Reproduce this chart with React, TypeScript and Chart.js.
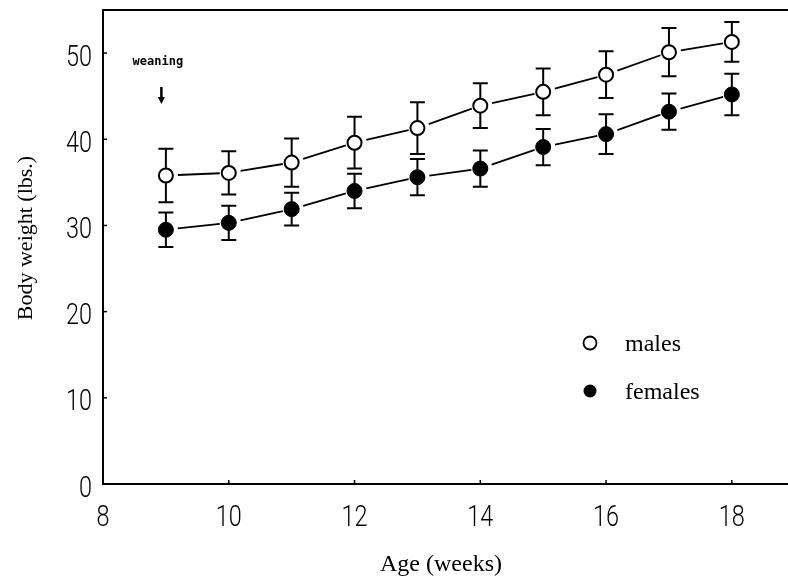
import React, { useEffect, useRef } from "react";
import { Chart, registerables } from "chart.js";

Chart.register(...registerables);

// ---- data ----
const weeks = [9, 10, 11, 12, 13, 14, 15, 16, 17, 18];
const malesMean = [35.8, 36.1, 37.3, 39.6, 41.3, 43.9, 45.5, 47.5, 50.1, 51.3];
const malesErr = [3.1, 2.5, 2.8, 3.0, 3.0, 2.6, 2.7, 2.7, 2.8, 2.3];
const femalesMean = [29.5, 30.3, 31.9, 34.0, 35.6, 36.6, 39.1, 40.6, 43.2, 45.2];
const femalesErr = [2.0, 2.0, 1.9, 2.0, 2.1, 2.1, 2.1, 2.3, 2.1, 2.4];
const xTickValues = [8, 10, 12, 14, 16, 18];
const yTickValues = [0, 10, 20, 30, 40, 50];
const seriesLabels = ["males", "females"];
const weaningWeek = 9;
const weaningText = "weaning";
const xTitle = "Age (weeks)";
const yTitle = "Body weight (lbs.)";

const TICK_FONT = "300 30px Roboto, 'DejaVu Sans', sans-serif";
const TICK_SQUEEZE = 0.78;
const SERIF = "'Liberation Serif', 'DejaVu Serif', serif";

const customPlugin = {
  id: "customDecor",
  beforeDatasetsDraw(chart: any) {
    const ctx = chart.ctx as CanvasRenderingContext2D;
    const { left, top, bottom } = chart.chartArea;
    const W = chart.width;
    const xs = chart.scales.x;
    const ys = chart.scales.y;
    ctx.save();
    ctx.strokeStyle = "#000";
    ctx.fillStyle = "#000";
    ctx.lineCap = "butt";

    // frame: left axis, bottom axis and top line, running off the right edge
    ctx.lineWidth = 2;
    ctx.beginPath();
    ctx.moveTo(left - 1, top);
    ctx.lineTo(W, top);
    ctx.moveTo(left - 1, bottom);
    ctx.lineTo(W, bottom);
    ctx.moveTo(left, top - 1);
    ctx.lineTo(left, bottom + 1);
    ctx.stroke();

    // inward tick marks
    ctx.lineWidth = 1.5;
    xTickValues.forEach((v) => {
      if (v === xs.min) return;
      const px = xs.getPixelForValue(v);
      ctx.beginPath();
      ctx.moveTo(px, bottom);
      ctx.lineTo(px, bottom - 4);
      ctx.stroke();
    });
    yTickValues.forEach((v) => {
      if (v === ys.min) return;
      const py = ys.getPixelForValue(v);
      ctx.beginPath();
      ctx.moveTo(left, py);
      ctx.lineTo(left + 4, py);
      ctx.stroke();
    });

    chart.data.datasets.forEach((ds: any, i: number) => {
      const meta = chart.getDatasetMeta(i);
      const pts = meta.data;
      // connecting line segments with gaps near markers
      ctx.lineWidth = 1.8;
      for (let k = 0; k < pts.length - 1; k++) {
        const p = pts[k];
        const q = pts[k + 1];
        const dx = q.x - p.x;
        const dy = q.y - p.y;
        const len = Math.hypot(dx, dy);
        const ux = dx / len;
        const uy = dy / len;
        const g1 = 12;
        const g2 = 9;
        ctx.beginPath();
        ctx.moveTo(p.x + ux * g1, p.y + uy * g1);
        ctx.lineTo(q.x - ux * g2, q.y - uy * g2);
        ctx.stroke();
      }
      // error bars
      ctx.lineWidth = 2;
      pts.forEach((p: any, k: number) => {
        const v = ds.data[k].y;
        const e = ds.errors[k];
        const yT = ys.getPixelForValue(v + e);
        const yB = ys.getPixelForValue(v - e);
        const cap = 7.5;
        ctx.beginPath();
        ctx.moveTo(p.x, yT);
        ctx.lineTo(p.x, yB);
        ctx.moveTo(p.x - cap, yT);
        ctx.lineTo(p.x + cap, yT);
        ctx.moveTo(p.x - cap, yB);
        ctx.lineTo(p.x + cap, yB);
        ctx.stroke();
      });
    });
    ctx.restore();
  },
  afterDraw(chart: any) {
    const ctx = chart.ctx as CanvasRenderingContext2D;
    const { left, top, bottom } = chart.chartArea;
    const xs = chart.scales.x;
    const ys = chart.scales.y;
    ctx.save();
    ctx.fillStyle = "#000";
    ctx.strokeStyle = "#000";

    // tick labels (condensed)
    ctx.font = TICK_FONT;
    ctx.textBaseline = "alphabetic";
    xTickValues.forEach((v) => {
      const px = xs.getPixelForValue(v);
      ctx.save();
      ctx.translate(px, bottom + 42);
      ctx.scale(TICK_SQUEEZE, 1);
      ctx.textAlign = "center";
      ctx.fillText(String(v), 0, 0);
      ctx.restore();
    });
    yTickValues.forEach((v) => {
      const py = ys.getPixelForValue(v);
      ctx.save();
      ctx.translate(left - 11, py + 12.5);
      ctx.scale(TICK_SQUEEZE, 1);
      ctx.textAlign = "right";
      ctx.fillText(String(v), 0, 0);
      ctx.restore();
    });

    // y axis title
    ctx.save();
    ctx.font = "22px " + SERIF;
    ctx.translate(26, 238);
    ctx.rotate(-Math.PI / 2);
    ctx.textAlign = "center";
    ctx.textBaseline = "middle";
    ctx.fillText(yTitle, 0, 0);
    ctx.restore();

    // weaning annotation
    const wx = xs.getPixelForValue(weaningWeek);
    ctx.font = "bold 12px 'DejaVu Sans Mono', 'Liberation Mono', monospace";
    ctx.textAlign = "center";
    ctx.textBaseline = "middle";
    ctx.fillText(weaningText, wx - 8, 62);
    const ax = wx - 4.5;
    ctx.lineWidth = 2.5;
    ctx.beginPath();
    ctx.moveTo(ax, 87);
    ctx.lineTo(ax, 98);
    ctx.stroke();
    ctx.beginPath();
    ctx.moveTo(ax - 3.5, 97);
    ctx.lineTo(ax + 3.5, 97);
    ctx.lineTo(ax, 104);
    ctx.closePath();
    ctx.fill();

    // legend
    const lx = left + 487;
    const rows = [top + 333, top + 381];
    ctx.font = "24px " + SERIF;
    ctx.textAlign = "left";
    ctx.textBaseline = "alphabetic";
    seriesLabels.forEach((lab, i) => {
      const cy = rows[i];
      ctx.beginPath();
      ctx.arc(lx, cy, 6.5, 0, Math.PI * 2);
      if (i === 0) {
        ctx.fillStyle = "#fff";
        ctx.fill();
        ctx.lineWidth = 1.8;
        ctx.stroke();
      } else {
        ctx.fillStyle = "#000";
        ctx.fill();
      }
      ctx.fillStyle = "#000";
      ctx.fillText(lab, lx + 35, cy + 8);
    });
    ctx.restore();
  },
};

export default function App() {
  const canvasRef = useRef<HTMLCanvasElement | null>(null);

  useEffect(() => {
    const canvas = canvasRef.current;
    if (!canvas) return;
    const chart = new Chart(canvas, {
      type: "line",
      data: {
        datasets: [
          {
            label: seriesLabels[0],
            data: weeks.map((w, i) => ({ x: w, y: malesMean[i] })),
            errors: malesErr,
            showLine: false,
            pointRadius: 7,
            pointBackgroundColor: "#fff",
            pointBorderColor: "#000",
            pointBorderWidth: 2,
            borderColor: "#000",
          } as any,
          {
            label: seriesLabels[1],
            data: weeks.map((w, i) => ({ x: w, y: femalesMean[i] })),
            errors: femalesErr,
            showLine: false,
            pointRadius: 7.5,
            pointBackgroundColor: "#000",
            pointBorderColor: "#000",
            pointBorderWidth: 1,
            borderColor: "#000",
          } as any,
        ],
      },
      options: {
        animation: false,
        responsive: true,
        maintainAspectRatio: false,
        layout: { padding: { top: 10, left: 0, right: 0, bottom: 0 } },
        plugins: {
          legend: { display: false },
          tooltip: { enabled: false },
        },
        scales: {
          x: {
            type: "linear",
            min: 8,
            max: 18.75,
            afterBuildTicks: (scale: any) => {
              scale.ticks = xTickValues.map((v) => ({ value: v }));
            },
            afterFit: (scale: any) => {
              scale.height = 99;
              scale.paddingLeft = 0;
              scale.paddingRight = 0;
            },
            grid: { display: false, drawTicks: false, tickLength: 0 },
            border: { display: false },
            ticks: { display: false },
            title: {
              display: true,
              text: xTitle,
              color: "#000",
              font: { family: SERIF, size: 24 },
              padding: { top: 0, bottom: 4 },
            },
          },
          y: {
            type: "linear",
            min: 0,
            max: 55,
            afterBuildTicks: (scale: any) => {
              scale.ticks = yTickValues.map((v) => ({ value: v }));
            },
            afterFit: (scale: any) => {
              scale.width = 103;
              scale.paddingTop = 0;
              scale.paddingBottom = 0;
            },
            grid: { display: false, drawTicks: false, tickLength: 0 },
            border: { display: false },
            ticks: { display: false },
            title: { display: false },
          },
        },
      } as any,
      plugins: [customPlugin],
    });
    return () => chart.destroy();
  }, []);

  return (
    <div style={{ position: "absolute", left: 0, top: 0, width: 788, height: 583, background: "#fff" }}>
      <canvas ref={canvasRef} />
    </div>
  );
}
